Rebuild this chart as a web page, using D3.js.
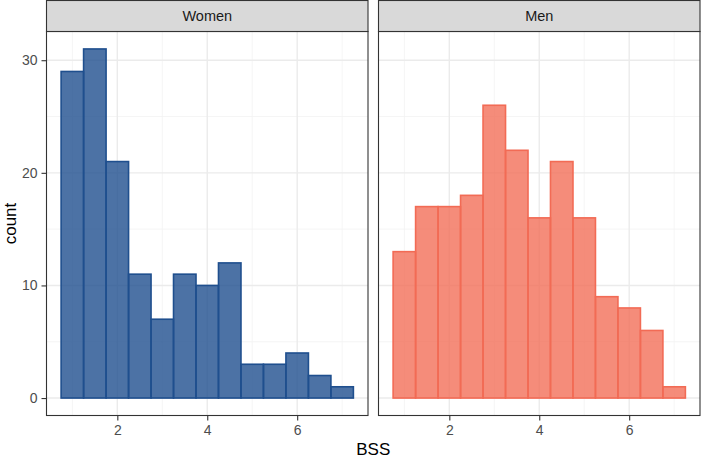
<!DOCTYPE html>
<html>
<head>
<meta charset="utf-8">
<script src="https://cdn.jsdelivr.net/npm/d3@7"></script>
<style>
  body { margin: 0; background: #fff; }
  text { font-family: "Liberation Sans", Arial, sans-serif; }
</style>
</head>
<body>
<svg id="chart" width="701" height="459"></svg>
<script>
// histogram bins (binwidth 0.5), lower edges
var binStarts = [0.75, 1.25, 1.75, 2.25, 2.75, 3.25, 3.75, 4.25, 4.75, 5.25, 5.75, 6.25, 6.75];
var binWidth = 0.5;
var womenCounts = [29, 31, 21, 11, 7, 11, 10, 12, 3, 3, 4, 2, 1];
var menCounts = [13, 17, 17, 18, 26, 22, 16, 21, 16, 9, 8, 6, 1];
var xTicks = [2, 4, 6];
var yTicks = [0, 10, 20, 30];

var panels = [
    { name: 'Women', counts: womenCounts, stroke: '#1f4f8e', fill: '#1f4f8e', opacity: 0.8, left: 46.5, right: 368 },
    { name: 'Men', counts: menCounts, stroke: '#f26b55', fill: '#f26b55', opacity: 0.78, left: 378.5, right: 700 }
];

var stripTop = 0.5, stripBottom = 31.5, panelBottom = 415.5;
var tickFont = 14, titleFont = 17;

var svg = d3.select('#chart');

var xExt = [binStarts[0], binStarts[binStarts.length - 1] + binWidth];
var xPad = (xExt[1] - xExt[0]) * 0.05;
var yMax = d3.max(womenCounts.concat(menCounts));
var yPad = yMax * 0.05;

var y = d3.scaleLinear()
    .domain([-yPad, yMax + yPad])
    .range([panelBottom, stripBottom]);

var minorY = d3.range(5, yMax + 1, 10);
var minorX = [1, 3, 5, 7];

panels.forEach(function(p) {
    var x = d3.scaleLinear()
        .domain([xExt[0] - xPad, xExt[1] + xPad])
        .range([p.left, p.right]);

    var g = svg.append('g');

    // panel bg
    g.append('rect')
        .attr('x', p.left).attr('y', stripBottom)
        .attr('width', p.right - p.left).attr('height', panelBottom - stripBottom)
        .attr('fill', '#fff');

    // minor grid
    g.selectAll('.minor-y').data(minorY).enter().append('line')
        .attr('x1', p.left).attr('x2', p.right)
        .attr('y1', d => y(d)).attr('y2', d => y(d))
        .attr('stroke', '#f2f2f2').attr('stroke-width', 0.8);
    g.selectAll('.minor-x').data(minorX).enter().append('line')
        .attr('y1', stripBottom).attr('y2', panelBottom)
        .attr('x1', d => x(d)).attr('x2', d => x(d))
        .attr('stroke', '#f2f2f2').attr('stroke-width', 0.8);
    // major grid
    g.selectAll('.major-y').data(yTicks).enter().append('line')
        .attr('x1', p.left).attr('x2', p.right)
        .attr('y1', d => y(d)).attr('y2', d => y(d))
        .attr('stroke', '#ebebeb').attr('stroke-width', 1.4);
    g.selectAll('.major-x').data(xTicks).enter().append('line')
        .attr('y1', stripBottom).attr('y2', panelBottom)
        .attr('x1', d => x(d)).attr('x2', d => x(d))
        .attr('stroke', '#ebebeb').attr('stroke-width', 1.4);

    // bars
    g.selectAll('.bar').data(p.counts).enter().append('rect')
        .attr('x', (d, i) => x(binStarts[i]))
        .attr('width', (d, i) => x(binStarts[i] + binWidth) - x(binStarts[i]))
        .attr('y', d => y(d))
        .attr('height', d => y(0) - y(d))
        .attr('fill', p.fill).attr('fill-opacity', p.opacity)
        .attr('stroke', p.stroke).attr('stroke-width', 1.6);

    // panel border
    g.append('rect')
        .attr('x', p.left).attr('y', stripBottom)
        .attr('width', p.right - p.left).attr('height', panelBottom - stripBottom)
        .attr('fill', 'none').attr('stroke', '#333').attr('stroke-width', 1.1);

    // strip
    g.append('rect')
        .attr('x', p.left).attr('y', stripTop)
        .attr('width', p.right - p.left).attr('height', stripBottom - stripTop)
        .attr('fill', '#d9d9d9').attr('stroke', '#333').attr('stroke-width', 1.1);
    g.append('text')
        .attr('x', (p.left + p.right) / 2).attr('y', (stripTop + stripBottom) / 2 + 5.2)
        .attr('text-anchor', 'middle').attr('font-size', 14.5).attr('fill', '#1a1a1a')
        .text(p.name);

    // x axis
    var xAxis = g.append('g')
        .attr('transform', 'translate(0,' + panelBottom + ')')
        .call(d3.axisBottom(x).tickValues(xTicks).tickSize(5).tickPadding(4.5).tickFormat(d3.format('d')));
    xAxis.select('.domain').remove();
    xAxis.selectAll('line').attr('stroke', '#333').attr('stroke-width', 1.1);
    xAxis.selectAll('text').attr('font-size', tickFont).attr('fill', '#4d4d4d')
        .style('font-family', '"Liberation Sans", Arial, sans-serif');
});

// y axis on the left panel
var yAxis = svg.append('g')
    .attr('transform', 'translate(' + panels[0].left + ',0)')
    .call(d3.axisLeft(y).tickValues(yTicks).tickSize(5).tickPadding(4));
yAxis.select('.domain').remove();
yAxis.selectAll('line').attr('stroke', '#333').attr('stroke-width', 1.1);
yAxis.selectAll('text').attr('font-size', tickFont).attr('fill', '#4d4d4d')
    .style('font-family', '"Liberation Sans", Arial, sans-serif');

// axis titles
svg.append('text')
    .attr('x', (panels[0].left + panels[1].right) / 2).attr('y', 455)
    .attr('text-anchor', 'middle').attr('font-size', titleFont).attr('fill', '#000')
    .text('BSS');
svg.append('text')
    .attr('transform', 'translate(15.5,' + (stripBottom + panelBottom) / 2 + ') rotate(-90)')
    .attr('text-anchor', 'middle').attr('font-size', titleFont).attr('fill', '#000')
    .text('count');
</script>
</body>
</html>
